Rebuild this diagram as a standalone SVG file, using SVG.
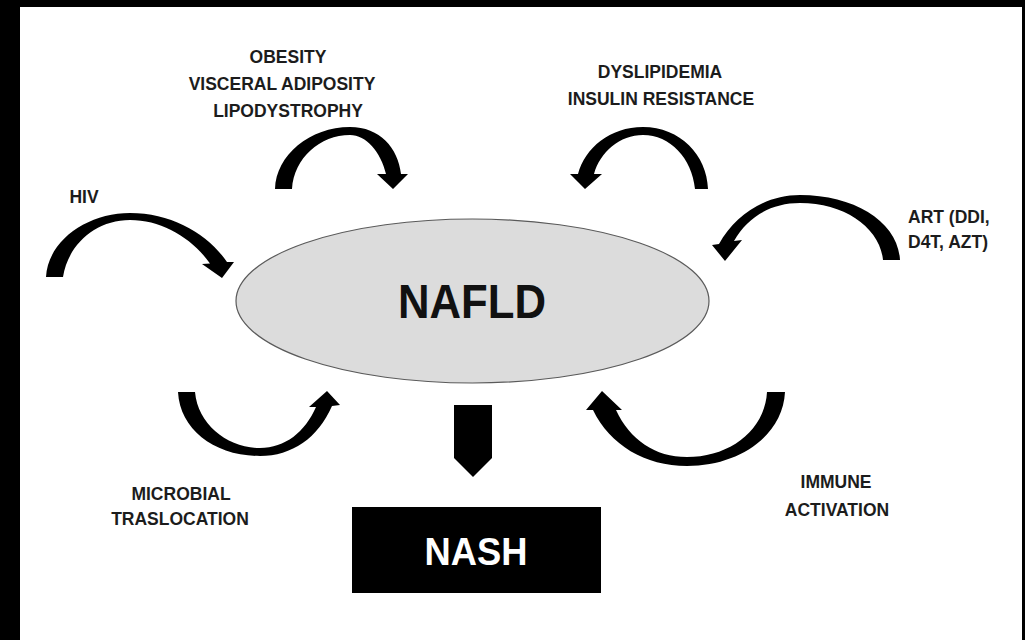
<svg xmlns="http://www.w3.org/2000/svg" width="1025" height="640" viewBox="0 0 1025 640">
  <style>
    .lbl { font-family: "Liberation Sans", Arial, sans-serif; font-weight: bold; font-size: 17.5px; fill: #1c1c1c; text-anchor: middle; }
    .arr { fill: #000; stroke: none; }
  </style>
  <rect x="0" y="0" width="1025" height="640" fill="#000"/>
  <rect x="20" y="7" width="1002" height="633" fill="#fff"/>

  <g id="nafld">
    <ellipse cx="472.5" cy="301" rx="236.5" ry="82" fill="#dcdcdc" stroke="#5a5a5a" stroke-width="1.2"/>
    <text x="472" y="318" font-family="Liberation Sans, Arial, sans-serif" font-weight="bold" font-size="48" fill="#111" text-anchor="middle" textLength="148" lengthAdjust="spacingAndGlyphs">NAFLD</text>
  </g>

  <g id="nash">
    <rect x="352" y="507" width="249" height="86" fill="#000"/>
    <text x="476" y="565" font-family="Liberation Sans, Arial, sans-serif" font-weight="bold" font-size="38" fill="#fff" text-anchor="middle" textLength="103" lengthAdjust="spacingAndGlyphs">NASH</text>
  </g>

  <g id="label-hiv"><text class="lbl" x="84" y="203">HIV</text></g>
  <g id="label-obesity">
    <text class="lbl" x="288" y="63">OBESITY</text>
    <text class="lbl" x="282" y="90">VISCERAL ADIPOSITY</text>
    <text class="lbl" x="288" y="117">LIPODYSTROPHY</text>
  </g>
  <g id="label-dyslipidemia">
    <text class="lbl" x="660" y="78">DYSLIPIDEMIA</text>
    <text class="lbl" x="661" y="105">INSULIN RESISTANCE</text>
  </g>
  <g id="label-art">
    <text class="lbl" x="908" y="223" text-anchor="start" style="text-anchor:start">ART (DDI,</text>
    <text class="lbl" x="908" y="248" text-anchor="start" style="text-anchor:start">D4T, AZT)</text>
  </g>
  <g id="label-microbial">
    <text class="lbl" x="181" y="500">MICROBIAL</text>
    <text class="lbl" x="180" y="525">TRASLOCATION</text>
  </g>
  <g id="label-immune">
    <text class="lbl" x="836" y="488">IMMUNE</text>
    <text class="lbl" x="837" y="516">ACTIVATION</text>
  </g>

  <g id="connectors">
    <!-- HIV -->
    <path class="arr" d="M46,277 C48,240 88,213 130,213 C172,213 208,234 227,262 L234,262 L222,278 L202,264 L210,263.5 C192,238 162,220 130,220 C95,220 68,245 63,277 Z"/>
    <!-- OBESITY -->
    <path class="arr" d="M275,189 C276,155 310,127 350,127 C380,127 398,148 401,174 L408,174 L393,189 L377,174 L386,174 C381,152 366,135 350,135 C320,135 294,158 292,189 Z"/>
    <!-- DYSLIPIDEMIA -->
    <path class="arr" d="M708,189 C707,155 680,127 643,127 C610,127 585,148 578,174 L570,174 L585,189 L602,174 L594,174 C600,152 620,135 643,135 C670,135 692,158 695,189 Z"/>
    <!-- ART -->
    <path class="arr" d="M900,260 C898,222 855,195 800,195 C765,195 735,215 719,244 L712,245 L725,261 L742,240 L734,241 C748,216 772,203 800,203 C845,203 880,228 883,260 Z"/>
    <!-- MICROBIAL -->
    <path class="arr" d="M178,392 L195,392 C198,425 228,448 260,448 C285,448 305,432 316,407 L309,407 L327,391 L340,405 L332,406 C318,438 292,456 260,456 C215,456 180,430 178,392 Z"/>
    <!-- IMMUNE -->
    <path class="arr" d="M785,392 L767,392 C765,430 730,457 687,457 C655,457 630,440 616,410 L622,410 L602,391 L586,410 L593,410 C610,445 645,466 687,466 C740,466 783,435 785,392 Z"/>
    <!-- NAFLD to NASH -->
    <polygon class="arr" points="454,405 492,405 492,458 473,477 454,458"/>
  </g>
</svg>
